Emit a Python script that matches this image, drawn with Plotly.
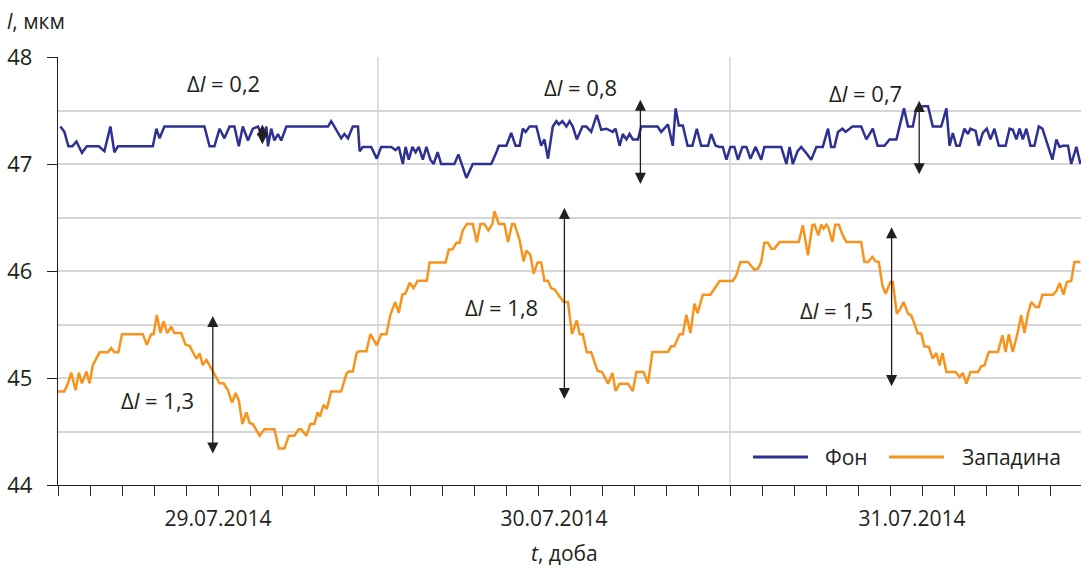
import plotly.graph_objects as go

# Measurement index (8 samples per tick division) and fibre length, um
t_fon = [0.6, 1.6, 2.6, 3.6, 4.6, 6.0, 7.2, 10.2, 11.6, 13.1, 14.1, 15.0, 23.7, 24.6, 25.4, 26.6,
         36.6, 37.9, 39.1, 40.4, 41.6, 42.9, 44.1, 45.2, 46.2, 47.5, 48.7, 50.0, 51.2, 52.1, 52.5,
         53.3, 54.1, 55.0, 55.8, 57.1, 67.5, 68.3, 70.8, 71.6, 72.5, 73.7, 75.0, 75.4, 76.2, 78.3,
         79.7, 80.8, 83.3, 84.4, 85.2, 86.2, 86.9, 87.7, 88.6, 89.4, 90.2, 91.2, 92.1, 93.1, 93.9,
         94.9, 95.8, 99.1, 100.1, 102.1, 103.7, 108.3, 109.6, 110.2, 112.1, 113.3, 114.4, 115.4,
         116.2, 116.9, 117.9, 119.6, 120.8, 121.6, 122.5, 123.7, 124.6, 125.2, 126.1, 127.1, 127.9,
         128.7, 129.7, 131.1, 132.1, 133.3, 134.7, 135.8, 137.1, 138.7, 139.4, 140.4, 141.2, 142.1,
         142.9, 143.7, 145.0, 145.8, 149.9, 150.8, 152.5, 153.7, 154.4, 155.2, 156.2, 157.4, 158.6,
         159.7, 160.8, 162.5, 163.3, 164.4, 165.4, 166.2, 167.1, 168.1, 169.1, 170.0, 171.1, 172.1,
         173.1, 174.4, 175.8, 176.6, 180.8, 182.1, 182.9, 183.7, 184.9, 185.8, 187.1, 188.3, 189.6,
         191.2, 192.5, 193.3, 194.1, 195.0, 196.1, 196.9, 198.6, 200.8, 202.1, 203.7, 204.9, 206.6,
         207.9, 209.6, 211.5, 212.5, 213.7, 214.6, 216.2, 217.5, 218.7, 220.8, 222.1, 222.9, 223.7,
         224.6, 225.4, 226.6, 227.5, 228.1, 229.4, 230.2, 231.2, 232.2, 233.1, 234.1, 235.2, 236.9,
         237.9, 238.7, 239.6, 240.4, 241.2, 242.1, 243.1, 244.1, 245.2, 246.1, 247.5, 248.6, 249.6,
         250.4, 251.2, 252.5, 253.3, 254.1, 254.6, 255.6]
l_fon = [47.35, 47.30, 47.165, 47.165, 47.21, 47.105, 47.165, 47.165, 47.12, 47.35, 47.11, 47.165,
         47.165, 47.33, 47.24, 47.35, 47.35, 47.165, 47.165, 47.33, 47.24, 47.35, 47.35, 47.165,
         47.35, 47.22, 47.33, 47.35, 47.24, 47.35, 47.165, 47.33, 47.22, 47.28, 47.22, 47.35, 47.35,
         47.40, 47.24, 47.28, 47.24, 47.35, 47.35, 47.12, 47.16, 47.16, 47.05, 47.16, 47.16, 47.13,
         47.16, 47.0, 47.16, 47.04, 47.16, 47.11, 47.16, 47.04, 47.16, 47.04, 47.0, 47.11, 47.0,
         47.0, 47.09, 46.87, 47.0, 47.0, 47.11, 47.17, 47.17, 47.29, 47.17, 47.17, 47.33, 47.30,
         47.35, 47.35, 47.17, 47.23, 47.05, 47.35, 47.40, 47.37, 47.40, 47.35, 47.40, 47.35, 47.23,
         47.35, 47.35, 47.30, 47.46, 47.32, 47.33, 47.30, 47.33, 47.17, 47.28, 47.23, 47.28, 47.23,
         47.23, 47.35, 47.35, 47.30, 47.37, 47.17, 47.52, 47.36, 47.36, 47.17, 47.17, 47.33, 47.17,
         47.17, 47.28, 47.17, 47.16, 47.16, 47.04, 47.16, 47.16, 47.04, 47.16, 47.16, 47.05, 47.16,
         47.04, 47.16, 47.16, 47.0, 47.16, 47.0, 47.12, 47.16, 47.10, 47.04, 47.16, 47.16, 47.33,
         47.16, 47.16, 47.30, 47.33, 47.30, 47.35, 47.35, 47.23, 47.33, 47.17, 47.17, 47.23, 47.23,
         47.52, 47.35, 47.35, 47.52, 47.54, 47.54, 47.35, 47.35, 47.52, 47.17, 47.29, 47.17, 47.17,
         47.33, 47.28, 47.33, 47.31, 47.17, 47.29, 47.33, 47.23, 47.33, 47.17, 47.17, 47.33, 47.32,
         47.23, 47.33, 47.23, 47.33, 47.17, 47.17, 47.35, 47.33, 47.17, 47.04, 47.23, 47.16, 47.17,
         47.17, 47.0, 47.10, 47.16, 47.0]

t_zap = [0.0, 1.6, 2.5, 3.3, 4.4, 5.2, 6.0, 7.1, 7.9, 8.7, 10.4, 12.5, 13.3, 14.1, 15.1, 16.0,
         21.2, 22.2, 23.3, 23.9, 24.7, 25.6, 26.4, 27.3, 28.3, 29.1, 30.8, 31.9, 32.9, 34.6, 35.4,
         36.2, 37.1, 38.6, 39.6, 40.4, 41.4, 42.5, 43.5, 44.4, 45.2, 46.1, 47.1, 47.9, 48.7, 50.4,
         51.6, 54.1, 55.2, 56.6, 57.7, 59.1, 60.2, 60.8, 62.1, 63.1, 64.1, 64.9, 65.5, 66.4, 67.2,
         68.3, 70.8, 72.1, 72.7, 73.7, 74.7, 75.4, 77.1, 78.1, 79.7, 80.8, 82.1, 83.1, 84.3, 85.2,
         86.1, 86.9, 87.9, 88.9, 89.9, 92.2, 92.9, 96.9, 97.7, 98.6, 99.6, 100.4, 101.2, 102.2,
         103.7, 104.7, 105.6, 106.6, 107.6, 108.6, 109.1, 110.2, 111.6, 112.5, 113.5, 114.1, 115.4,
         116.4, 117.1, 118.1, 118.9, 119.9, 120.8, 121.6, 122.5, 123.3, 124.1, 125.4, 126.4, 127.5,
         128.5, 129.7, 130.4, 131.2, 132.2, 133.3, 134.9, 136.0, 137.5, 138.6, 139.4, 140.4, 142.5,
         143.7, 144.6, 146.4, 147.5, 148.6, 152.5, 153.3, 154.1, 155.4, 156.2, 157.1, 158.1, 159.1,
         159.9, 161.2, 163.1, 164.4, 165.4, 168.7, 169.6, 170.6, 172.5, 174.1, 175.0, 175.8, 176.6,
         177.5, 178.3, 179.1, 180.4, 185.2, 186.2, 187.5, 188.6, 189.1, 190.1, 190.8, 191.4, 192.1,
         192.6, 193.6, 194.3, 195.2, 196.2, 197.1, 200.8, 201.6, 202.5, 203.6, 204.4, 205.2, 206.1,
         206.9, 207.5, 208.1, 208.7, 209.7, 210.6, 211.4, 212.5, 213.3, 214.1, 214.9, 215.8, 216.6,
         217.7, 218.7, 219.6, 220.4, 221.1, 222.1, 224.4, 225.4, 226.2, 227.1, 228.1, 230.0, 230.8,
         231.6, 232.7, 235.0, 236.1, 236.9, 237.7, 238.7, 239.9, 240.8, 241.6, 242.5, 243.3, 244.4,
         245.2, 246.1, 248.7, 249.6, 250.4, 251.4, 252.2, 253.3, 254.1, 255.6]
l_zap = [44.875, 44.875, 44.95, 45.05, 44.885, 45.05, 44.95, 45.06, 44.95, 45.12, 45.24, 45.24,
         45.28, 45.24, 45.24, 45.41, 45.41, 45.31, 45.41, 45.41, 45.59, 45.42, 45.53, 45.42, 45.48,
         45.42, 45.42, 45.31, 45.30, 45.18, 45.23, 45.12, 45.17, 45.07, 45.0, 44.95, 44.95, 44.885,
         44.77, 44.86, 44.79, 44.57, 44.68, 44.58, 44.57, 44.46, 44.52, 44.52, 44.34, 44.34, 44.46,
         44.46, 44.52, 44.52, 44.46, 44.57, 44.57, 44.68, 44.64, 44.75, 44.71, 44.875, 44.875, 45.04,
         45.06, 45.06, 45.24, 45.25, 45.25, 45.41, 45.305, 45.41, 45.41, 45.59, 45.71, 45.61, 45.78,
         45.79, 45.89, 45.84, 45.91, 45.91, 46.08, 46.08, 46.20, 46.20, 46.265, 46.265, 46.38, 46.44,
         46.44, 46.27, 46.44, 46.44, 46.38, 46.44, 46.56, 46.44, 46.44, 46.27, 46.44, 46.44, 46.29,
         46.09, 46.19, 46.15, 45.975, 46.08, 46.08, 45.91, 45.91, 45.84, 45.83, 45.76, 45.71, 45.71,
         45.41, 45.54, 45.41, 45.41, 45.24, 45.24, 45.065, 45.056, 44.947, 45.047, 44.879, 44.947,
         44.947, 44.879, 45.056, 45.056, 44.947, 45.243, 45.243, 45.296, 45.296, 45.408, 45.408,
         45.592, 45.42, 45.695, 45.607, 45.779, 45.779, 45.85, 45.907, 45.907, 45.96, 46.084, 46.084,
         46.012, 46.022, 46.084, 46.265, 46.265, 46.209, 46.209, 46.271, 46.271, 46.427, 46.146,
         46.427, 46.433, 46.333, 46.433, 46.396, 46.433, 46.405, 46.271, 46.433, 46.433, 46.333,
         46.271, 46.271, 46.084, 46.084, 46.131, 46.09, 46.084, 45.866, 45.788, 45.85, 45.897,
         45.897, 45.601, 45.648, 45.71, 45.601, 45.586, 45.508, 45.42, 45.414, 45.296, 45.29,
         45.181, 45.234, 45.118, 45.234, 45.056, 45.056, 45.009, 45.047, 44.947, 45.056, 45.056,
         45.109, 45.118, 45.243, 45.243, 45.399, 45.243, 45.408, 45.243, 45.42, 45.586, 45.42,
         45.601, 45.71, 45.664, 45.664, 45.779, 45.779, 45.813, 45.888, 45.779, 45.897, 45.907,
         46.084, 46.084]

series_names = ["Фон", "Западина"]

# Day boundaries (measurement index) and their date labels
day_bounds = [0, 80, 168, 259]
day_labels = ["29.07.2014", "30.07.2014", "31.07.2014"]

y_ticks = [44, 45, 46, 47, 48]

# Daily amplitude Δl of each series
delta_values = [0.2, 0.8, 0.7, 1.3, 1.8, 1.5]
delta_t = [51.1, 145.6, 215.3, 38.7, 126.6, 208.4]
delta_mid = [47.27, 47.20, 47.24, 44.93, 45.69, 45.66]

# ---- styling / placement ----
BLUE = "#2e3192"
ORANGE = "#f7941d"
INK = "#231f20"
GRID = "#d6d6d6"
FONT = "Open Sans"

label_t = [41.4, 130.6, 201.9, 24.9, 110.9, 194.6]
label_l = [47.76, 47.72, 47.66, 44.79, 45.66, 45.64]

fig = go.Figure()
fig.add_trace(go.Scatter(x=t_fon, y=l_fon, mode="lines", name=series_names[0],
                         line=dict(color=BLUE, width=2.5), showlegend=False))
fig.add_trace(go.Scatter(x=t_zap, y=l_zap, mode="lines", name=series_names[1],
                         line=dict(color=ORANGE, width=2.5), showlegend=False))

shapes = []
# vertical grid lines at day boundaries
for b in day_bounds[1:-1]:
    shapes.append(dict(type="line", xref="x", yref="paper", x0=b, x1=b, y0=0, y1=1,
                       line=dict(color=GRID, width=1.5), layer="below"))

annotations = []
# double-headed Δl arrows and their labels
for v, t, m, lt, ll in zip(delta_values, delta_t, delta_mid, label_t, label_l):
    annotations.append(dict(x=t, y=m + v / 2, ax=t, ay=m - v / 2, xref="x", yref="y",
                            axref="x", ayref="y", text="", showarrow=True,
                            arrowhead=2, startarrowhead=2, arrowside="end+start",
                            arrowsize=1.7, startarrowsize=1.7, arrowwidth=1.3,
                            arrowcolor=INK))
    annotations.append(dict(x=lt, y=ll, xref="x", yref="y", showarrow=False,
                            text="Δ<i>l</i> = " + f"{v:.1f}".replace(".", ","),
                            font=dict(family=FONT, size=22, color=INK)))

# axis titles
annotations.append(dict(xref="x domain", yref="y domain", x=-0.052, y=1.085,
                        showarrow=False, text="<i>l</i>, мкм",
                        font=dict(family=FONT, size=21, color=INK),
                        xanchor="left", yanchor="middle"))
annotations.append(dict(xref="x domain", yref="y domain", x=0.4956, y=-0.159,
                        showarrow=False, text="<i>t</i>, доба",
                        font=dict(family=FONT, size=21, color=INK),
                        xanchor="center", yanchor="middle"))

# legend drawn in the lower-right corner
legend_items = [(series_names[0], BLUE, 0.6794, 0.7331, 0.7478),
                (series_names[1], ORANGE, 0.8123, 0.8661, 0.8817)]
for name, col, x0, x1, xt in legend_items:
    shapes.append(dict(type="line", xref="x domain", yref="y domain", x0=x0, x1=x1,
                       y0=0.0654, y1=0.0654, line=dict(color=col, width=3)))
    annotations.append(dict(xref="x domain", yref="y domain", x=xt, y=0.0654,
                            xanchor="left", yanchor="middle", showarrow=False, text=name,
                            font=dict(family=FONT, size=21, color=INK)))

centers = [(a + b) / 2 for a, b in zip(day_bounds[:-1], day_bounds[1:])]

fig.update_layout(
    width=1081, height=572,
    margin=dict(l=58, r=0, t=57, b=87),
    plot_bgcolor="white", paper_bgcolor="white",
    font=dict(family=FONT, size=20, color=INK),
    shapes=shapes, annotations=annotations,
    xaxis=dict(range=[0, 255.75], tickmode="array", tickvals=centers, ticktext=day_labels,
               ticks="", showgrid=False, zeroline=False, showline=True, linecolor=INK,
               linewidth=1.3, ticklabelstandoff=15,
               tickfont=dict(family=FONT, size=21, color=INK),
               minor=dict(tick0=0, dtick=8, ticks="outside", ticklen=10, tickwidth=1.3,
                          tickcolor=INK, showgrid=False)),
    yaxis=dict(range=[44, 48], tickmode="array", tickvals=y_ticks,
               ticks="outside", ticklen=10, tickwidth=1.3, tickcolor=INK,
               showgrid=True, gridcolor=GRID, gridwidth=1.5, zeroline=False,
               showline=True, linecolor=INK, linewidth=1.3, ticklabelstandoff=10,
               tickfont=dict(family=FONT, size=22, color=INK),
               minor=dict(dtick=0.5, tick0=44, showgrid=True, gridcolor=GRID, gridwidth=1.5)),
)

fig.write_html("out.html")
